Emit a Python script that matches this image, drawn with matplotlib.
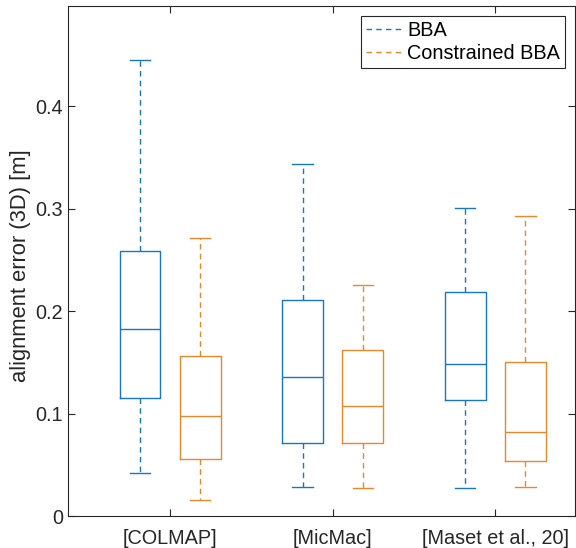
import matplotlib
matplotlib.use("Agg")
import matplotlib.pyplot as plt
from matplotlib.lines import Line2D

plt.rcParams['font.family'] = ['Liberation Sans', 'DejaVu Sans']

methods = ["[COLMAP]", "[MicMac]", "[Maset et al., 20]"]

# box stats per method: whisker low, q1, median, q3, whisker high
bba_lo = [0.042, 0.028, 0.027]
bba_q1 = [0.115, 0.071, 0.113]
bba_med = [0.183, 0.136, 0.148]
bba_q3 = [0.259, 0.211, 0.219]
bba_hi = [0.445, 0.344, 0.301]

cbba_lo = [0.016, 0.027, 0.028]
cbba_q1 = [0.056, 0.071, 0.054]
cbba_med = [0.098, 0.107, 0.082]
cbba_q3 = [0.156, 0.162, 0.150]
cbba_hi = [0.271, 0.226, 0.293]

blue = '#1877C4'
orange = '#E8872C'


def make_stats(lo, q1, med, q3, hi):
    stats = []
    for i in range(len(lo)):
        stats.append(dict(whislo=lo[i], q1=q1[i], med=med[i], q3=q3[i],
                          whishi=hi[i], fliers=[]))
    return stats


fig = plt.figure(figsize=(5.76, 5.48), dpi=100)
ax = fig.add_axes([68 / 576, 32 / 548, 507 / 576, 510 / 548])

pos = [1, 2, 3]
offset = 0.185
width = 0.25

for stats, shift, color in [(make_stats(bba_lo, bba_q1, bba_med, bba_q3, bba_hi), -offset, blue),
                            (make_stats(cbba_lo, cbba_q1, cbba_med, cbba_q3, cbba_hi), offset, orange)]:
    ax.bxp(stats, positions=[p + shift for p in pos], widths=width,
           capwidths=width / 2, showfliers=False, manage_ticks=False,
           boxprops=dict(color=color, lw=1.0),
           medianprops=dict(color=color, lw=1.0),
           whiskerprops=dict(color=color, lw=1.0, linestyle=(0, (4, 3))),
           capprops=dict(color=color, lw=1.0))

ax.set_xlim(0.372, 3.49)
ax.set_ylim(0, 0.498)
ax.set_xticks(pos)
ax.set_xticklabels(methods)
ax.set_yticks([0, 0.1, 0.2, 0.3, 0.4])
ax.set_yticklabels(['0', '0.1', '0.2', '0.3', '0.4'])
ax.tick_params(direction='in', top=True, right=True, labelsize=14.3,
               colors='#262626', length=5)
ax.tick_params(axis='x', pad=9)
ax.set_ylabel("alignment error (3D) [m]", fontsize=15.8, color='#262626')
ax.yaxis.set_label_coords(-0.073, 0.49)
for s in ax.spines.values():
    s.set_color('#262626')

handles = [Line2D([], [], color=blue, lw=1.0, linestyle=(0, (4, 3))),
           Line2D([], [], color=orange, lw=1.0, linestyle=(0, (4, 3)))]
leg = ax.legend(handles, ["BBA", "Constrained BBA"], loc='upper right',
                fontsize=14.3, fancybox=False, framealpha=1,
                edgecolor='#262626', handlelength=1.9, handletextpad=0.2,
                borderpad=0.25, labelspacing=0.2, borderaxespad=0.5)
leg.get_frame().set_linewidth(0.8)

fig.savefig("out.png", dpi=100)
